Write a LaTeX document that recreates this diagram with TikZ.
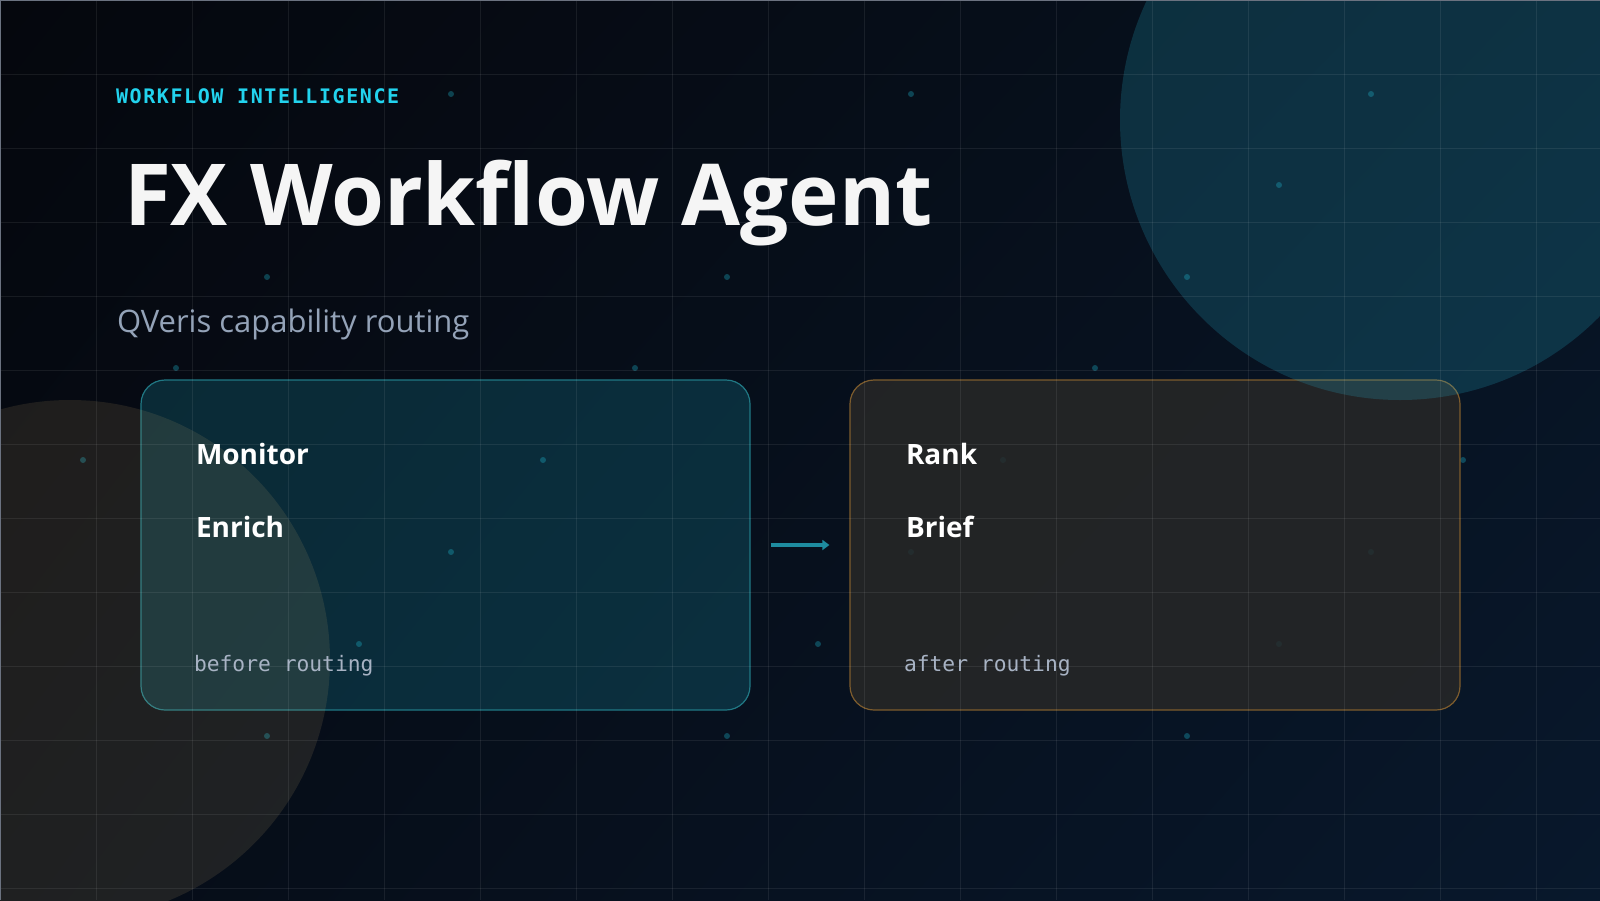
\documentclass[tikz,border=0pt]{standalone}
\usepackage{fontspec}
\setmainfont{Open Sans}
\newfontfamily\monofont{DejaVu Sans Mono}
\newfontfamily\labelfont{DejaVu Sans Mono}[LetterSpace=8.0]
\usetikzlibrary{arrows.meta,shadings}
\definecolor{bgA}{HTML}{05070D}
\definecolor{bgB}{HTML}{071220}
\definecolor{bgC}{HTML}{060C16}
\definecolor{bgD}{HTML}{08182C}
\definecolor{cyanlbl}{HTML}{22D3EE}
\definecolor{subgray}{HTML}{94A3B8}
\definecolor{monogray}{HTML}{A8B3C4}
\definecolor{titlewhite}{HTML}{F5F5F5}
\definecolor{tealorb}{RGB}{40,180,210}
\definecolor{amberorb}{RGB}{200,170,110}
\definecolor{tealfill}{RGB}{34,211,238}
\definecolor{tealedge}{RGB}{32,120,132}
\definecolor{boxgray}{RGB}{40,40,39}
\definecolor{amberedge}{RGB}{125,92,45}
\definecolor{arrowteal}{RGB}{30,140,160}
\definecolor{framegray}{HTML}{6B7280}
\tikzset{
  txt/.style={anchor=base west, inner sep=0pt, outer sep=0pt},
  beforebox/.style={rectangle, rounded corners=24pt, minimum width=609pt, minimum height=330pt,
    fill=tealfill, fill opacity=0.16, draw=tealedge, draw opacity=1, line width=1.2pt},
  afterbox/.style={rectangle, rounded corners=24pt, minimum width=610pt, minimum height=330pt,
    fill=boxgray, fill opacity=0.84, draw=amberedge, draw opacity=1, line width=1.2pt},
  gridline/.style={white, opacity=0.075, line width=1pt},
  dot/.style={tealfill, fill opacity=0.28},
  itemtxt/.style={txt, text=white, font=\bfseries\fontsize{28}{33}\selectfont},
  monotxt/.style={txt, text=monogray, font=\monofont\fontsize{21.3}{25}\selectfont},
  flowarrow/.style={draw=arrowteal, line width=4.5pt, -{Triangle[length=7pt,width=10pt]},
    shorten <=20pt, shorten >=20pt},
}
\begin{document}
\begin{tikzpicture}[x=1pt,y=-1pt]
\useasboundingbox (0,0) rectangle (1600,900);
\begin{scope}
\clip (0,0) rectangle (1600,900);
% background
\shade[upper left=bgA, upper right=bgB, lower left=bgC, lower right=bgD] (0,0) rectangle (1600,900);
% dots
\foreach \x/\y in {451/94, 911/94, 1371/94, 359/185, 819/185, 1279/185, 267/277, 727/277, 1187/277,
  176/368, 635/368, 1095/368, 83/460, 543/460, 1003/460, 1463/460, 451/552, 911/552, 1371/552,
  359/644, 818/644, 1279/644, 267/736, 727/736, 1187/736}
  \fill[dot] (\x,\y) circle[radius=3pt];
% boxes
\node[beforebox] (before) at (445.5,545) {};
\node[afterbox] (after) at (1155,545) {};
% orbs
\fill[tealorb, opacity=0.2] (1400,120) circle[radius=280pt];
\fill[amberorb, opacity=0.13] (70,660) circle[radius=260pt];
% grid
\foreach \k in {1,...,16} \draw[gridline] (96*\k,0) -- (96*\k,900);
\foreach \k in {1,...,12} \draw[gridline] (0,74*\k) -- (1600,74*\k);
% frame edges
\draw[framegray, line width=1.5pt] (0,900) -- (0,0) -- (1600,0);
\end{scope}
% texts
\node[txt, text=cyanlbl, font=\labelfont\bfseries\fontsize{20}{24}\selectfont] (kicker) at (116,103) {WORKFLOW INTELLIGENCE};
\node[txt, text=titlewhite, font=\bfseries\fontsize{85.5}{100}\selectfont] (title) at (124,225) {FX Workflow Agent};
\node[txt, text=subgray, font=\fontsize{31}{36}\selectfont] (subtitle) at (117,332) {QVeris capability routing};
\node[itemtxt] (monitor) at (196,464) {Monitor};
\node[itemtxt] (enrich) at (196,537) {Enrich};
\node[monotxt] (beforelbl) at (194,671) {before routing};
\node[itemtxt] (rank) at (906,464) {Rank};
\node[itemtxt] (brief) at (906,537) {Brief};
\node[monotxt] (afterlbl) at (904,671) {after routing};
% connector
\draw[flowarrow] (before) -- (after);
\end{tikzpicture}
\end{document}
